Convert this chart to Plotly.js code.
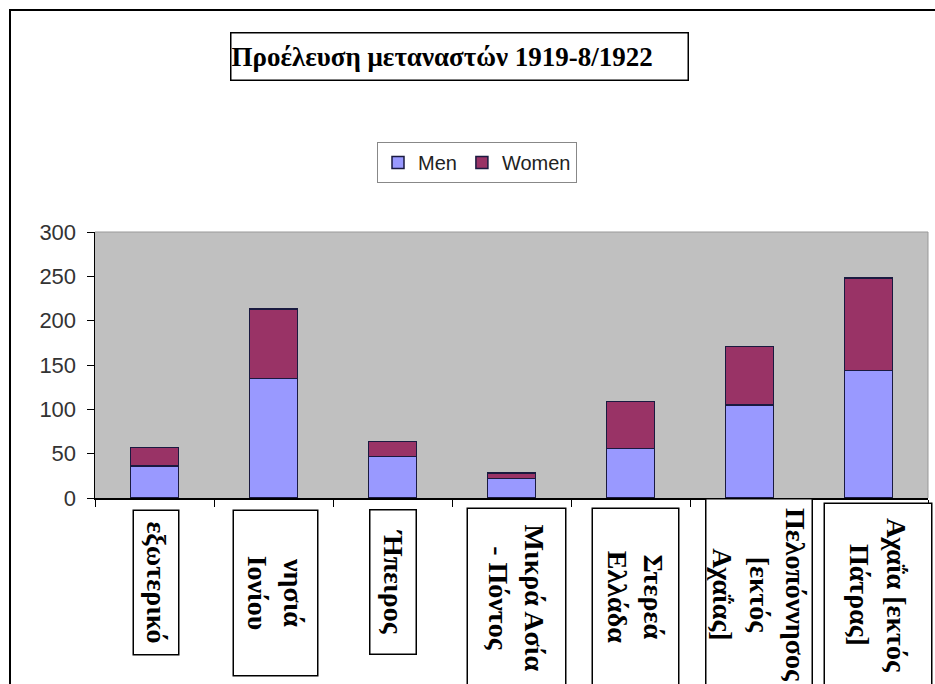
<!DOCTYPE html>
<html>
<head>
<meta charset="utf-8">
<script src="https://cdn.plot.ly/plotly-3.0.1.min.js"></script>
<style>html,body{margin:0;padding:0;background:#fff;}#chart{width:935px;height:684px;}</style>
</head>
<body>
<div id="chart"></div>
<script>
// ---- data ----
const categories = ["εξωτερικό", "νησιά Ιονίου", "Ήπειρος", "Μικρά Ασία - Πόντος", "Στερεά Ελλάδα", "Πελοπόννησος [εκτός Αχαΐας]", "Αχαΐα [εκτός Πάτρας]"];
const categoryLabels = ["εξωτερικό", "νησιά<br>Ιονίου", "Ήπειρος", "Μικρά Ασία<br>- Πόντος", "Στερεά<br>Ελλάδα", "Πελοπόννησος<br>[εκτός<br>Αχαΐας]", "Αχαΐα [εκτός<br>Πάτρας]"];
const men = [36, 135, 47, 22, 56, 105, 144];
const women = [21, 78, 17, 6, 53, 66, 104];
const titleText = "Προέλευση μεταναστών 1919-8/1922";

// ---- layout helpers (pixel geometry) ----
const W = 935, H = 684;
const M = {l: 95, r: 7, t: 232, b: 186};
const PW = W - M.l - M.r, PH = H - M.t - M.b;
const px = x => (x - M.l) / PW;
const py = y => (H - M.b - y) / PH;

// label boxes: [left, right, top, bottom] in screen px
const boxes = [
  [133, 180, 509, 655],
  [233, 319, 509, 676],
  [369, 417, 509, 655],
  [467, 567, 507, 688],
  [592, 680, 507, 686],
  [705, 813, 498, 692],
  [824, 933, 502, 688]
];
const BW = 1.5;

const annotations = categoryLabels.map((lab, i) => {
  const [l, r, t, b] = boxes[i];
  return {
    xref: 'paper', yref: 'paper',
    x: px((l + r) / 2), y: py(t),
    xanchor: 'center', yanchor: 'top',
    text: '<b>' + lab.split('<br>').join('</b><br><b>') + '</b>', showarrow: false, textangle: 90,
    width: (b - t) - 2 * BW, height: (r - l) - 2 * BW,
    borderpad: 0, borderwidth: BW, bordercolor: '#000', bgcolor: '#fff',
    align: 'center', valign: 'middle',
    font: {family: 'Liberation Serif', size: 28, color: '#000', weight: 700}
  };
});

annotations.push({
  xref: 'paper', yref: 'paper',
  x: px(230), y: py(32), xanchor: 'left', yanchor: 'top',
  text: '<b>' + titleText + '</b>', showarrow: false,
  width: 459 - 2 * BW, height: 49 - 2 * BW,
  borderpad: 0, borderwidth: BW, bordercolor: '#000', bgcolor: '#fff',
  align: 'left', valign: 'middle',
  font: {family: 'Liberation Serif, Times New Roman, serif', size: 27, color: '#000'}
});

const shapes = [
  // outer frame (left and top)
  {type: 'line', xref: 'paper', yref: 'paper', x0: px(10), y0: py(700), x1: px(10), y1: py(10), line: {color: '#000', width: 2}},
  {type: 'line', xref: 'paper', yref: 'paper', x0: px(9), y0: py(10), x1: px(950), y1: py(10), line: {color: '#000', width: 2}},
  // plot area top/right border
  {type: 'line', xref: 'paper', yref: 'paper', x0: 0, y0: 1, x1: 1, y1: 1, line: {color: '#999', width: 1}},
  {type: 'line', xref: 'paper', yref: 'paper', x0: 1, y0: 0, x1: 1, y1: 1, line: {color: '#999', width: 1}}
];

const traces = [
  {type: 'bar', name: 'Men', x: categories, y: men,
   marker: {color: '#9999FF', line: {color: '#1a1a40', width: 1.5}}},
  {type: 'bar', name: 'Women', x: categories, y: women,
   marker: {color: '#993366', line: {color: '#1a1a40', width: 1.5}}}
];

const layout = {
  width: W, height: H,
  margin: M,
  paper_bgcolor: '#fff', plot_bgcolor: '#C0C0C0',
  barmode: 'stack', bargap: 0.6,
  showlegend: true,
  legend: {
    orientation: 'h', x: px(377), y: py(142), xanchor: 'left', yanchor: 'top',
    traceorder: 'normal',
    bgcolor: '#fff', bordercolor: '#888', borderwidth: 1,
    font: {family: 'Liberation Sans, Arial, sans-serif', size: 20, color: '#222'},
    itemwidth: 30, tracegroupgap: 0
  },
  xaxis: {
    type: 'category', showticklabels: false, showgrid: false, zeroline: false,
    showline: true, linecolor: '#000', linewidth: 1.5,
    ticks: 'outside', tickson: 'boundaries', ticklen: 7, tickcolor: '#000', tickwidth: 1,
    fixedrange: true
  },
  yaxis: {
    range: [0, 300], dtick: 50, showgrid: false, zeroline: false,
    showline: true, linecolor: '#000', linewidth: 1.5,
    ticks: 'outside', ticklen: 7, tickcolor: '#000', tickwidth: 1,
    ticklabelstandoff: 6,
    tickfont: {family: 'Liberation Sans, Arial, sans-serif', size: 22, color: '#333'},
    fixedrange: true
  },
  annotations: annotations,
  shapes: shapes
};

Plotly.newPlot('chart', traces, layout, {displayModeBar: false, staticPlot: true});
</script>
</body>
</html>
